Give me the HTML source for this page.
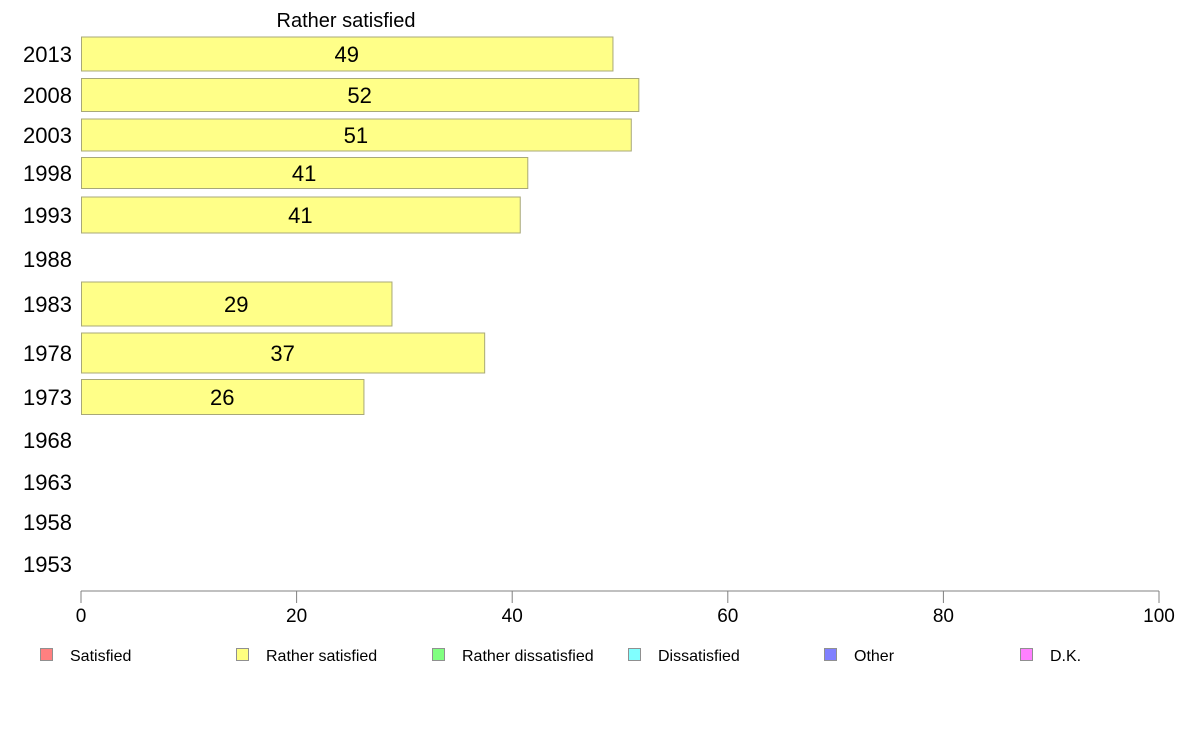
<!DOCTYPE html>
<html><head><meta charset="utf-8"><style>
html,body{margin:0;padding:0;background:#fff}
svg{display:block;font-family:"Liberation Sans",Arial,sans-serif}
</style></head><body>
<svg id="chart" width="1188" height="736" viewBox="0 0 1188 736" xmlns="http://www.w3.org/2000/svg">
<text x="346" y="27" font-size="20" text-anchor="middle" fill="#000">Rather satisfied</text>
<g id="rows"></g>
<g id="axis"></g>
<g id="legend"></g>
</svg>
<script>
const years = ["2013","2008","2003","1998","1993","1988","1983","1978","1973","1968","1963","1958","1953"];
const values = [49.3, 51.7, 51.0, 41.4, 40.7, null, 28.8, 37.4, 26.2, null, null, null, null];
const valueLabels = ["49","52","51","41","41","","29","37","26","","","",""];
const xTicks = [0, 20, 40, 60, 80, 100];
const legendLabels = ["Satisfied","Rather satisfied","Rather dissatisfied","Dissatisfied","Other","D.K."];
const legendColors = ["#ff8080","#ffff80","#80ff80","#80ffff","#8080ff","#ff80ff"];
// layout (not data): row centre y and bar height
const rowLayout = [[54,34],[95,33],[135,32],[173,31],[215,36],[259,0],[304,44],[353,40],[397,35],[440,0],[482,0],[522,0],[564,0]];

const NS = "http://www.w3.org/2000/svg";
const x0 = 81, x1 = 1159, axisY = 591;
const xScale = v => x0 + (v / 100) * (x1 - x0);
function mk(tag, attrs, parent, txt) {
  const e = document.createElementNS(NS, tag);
  for (const k in attrs) e.setAttribute(k, attrs[k]);
  if (txt !== undefined) e.textContent = txt;
  parent.appendChild(e);
  return e;
}
const rows = document.getElementById("rows");
years.forEach((y, i) => {
  const [cy, h] = rowLayout[i];
  const t = mk("text", {x: 72, y: cy + 8, "font-size": 22, "text-anchor": "end", fill: "#000"}, rows, y);
  
  
  if (values[i] != null) {
    const w = xScale(values[i]) - x0;
    const r = mk("rect", {x: x0 + 0.5, y: cy - h / 2, width: w, height: h, fill: "#ffff88", stroke: "#a8a878", "stroke-width": 1}, rows);
    
    
    const l = mk("text", {x: x0 + w / 2, y: cy + 8, "font-size": 22, "text-anchor": "middle", fill: "#000"}, rows, valueLabels[i]);
    
    
  }
});
const axis = document.getElementById("axis");
const al = mk("line", {x1: x0, x2: x1, y1: axisY, y2: axisY, stroke: "#808080", "stroke-width": 1}, axis);


xTicks.forEach(v => {
  const x = xScale(v);
  const tk = mk("line", {x1: x, x2: x, y1: axisY, y2: axisY + 12, stroke: "#808080", "stroke-width": 1}, axis);
  
  
  const tl = mk("text", {x: x, y: 622, "font-size": 19, "text-anchor": "middle", fill: "#000"}, axis, String(v));
  
  
});
const legend = document.getElementById("legend");
legendLabels.forEach((lab, i) => {
  const lx = 40 + i * 196;
  const g = mk("g", {}, legend);
  
  
  mk("rect", {x: lx + 0.5, y: 648.5, width: 12, height: 12, fill: legendColors[i], stroke: "#909090", "stroke-width": 1}, g);
  mk("text", {x: lx + 30, y: 661, "font-size": 16, fill: "#000"}, g, lab);
});
</script>
</body></html>
